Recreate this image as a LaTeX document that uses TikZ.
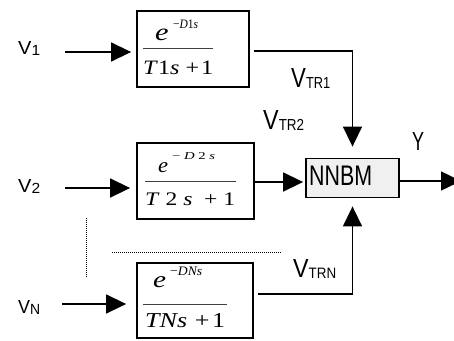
\documentclass[tikz,border=0pt]{standalone}
\usepackage{fontspec}
\usepackage{graphicx}
\setmainfont{Liberation Sans}
\newfontfamily\tms{Liberation Serif}
\usetikzlibrary{arrows.meta,calc}

% text boxed to a given width and height (in pt)
\newcommand{\fitto}[3]{\resizebox{#1pt}{#2pt}{#3}}
\newcommand{\fs}[1]{\fontsize{#1}{#1}\selectfont}

\tikzset{
  blk/.style={draw, line width=1.8pt, inner sep=0pt},
  conn/.style={line width=1.5pt},
  arr/.style={conn, -{Triangle[length=20pt,width=19pt]}},
  lbl/.style={inner sep=0pt, anchor=base west},
  fbar/.style={line width=1pt, draw=black!75},
  dots/.style={line width=1pt, dash pattern=on 1pt off 1pt}
}

\begin{document}
\begin{tikzpicture}[x=1pt,y=-1pt]
\useasboundingbox (0,0) rectangle (454,340);
\clip (0,0) rectangle (454,340);

% delay blocks
\node[blk, minimum width=112pt, minimum height=76pt] (b1) at (193,49) {};
\node[blk, minimum width=117pt, minimum height=76pt] (b2) at (195.5,181) {};
\node[blk, minimum width=116pt, minimum height=75pt] (bN) at (195,300.5) {};

% neural network model block
\node[blk, fill=black!6, minimum width=93pt, minimum height=39pt] (nn) at (352.5,178) {};
\node[lbl] (nnt) at (309,185) {\fitto{63}{19.5}{NNBM}};

% transfer functions
\node[lbl] (n1e) at (155,40.7) {\fitto{13.5}{11.5}{\tms\itshape e}};
\node[lbl] (n1s) at (173,28.3) {\fitto{25}{8.5}{\tms −\textit{D}1\textit{s}}};
\node[lbl] (d1)  at (143,74) {\fitto{70}{13.5}{\tms\textit{T}1\textit{s}\hspace{0.25em}+\hspace{0.08em}1}};
\draw[fbar] (143,48) -- (213,48);

\node[lbl] (n2e) at (158,172) {\fitto{10}{10}{\tms\itshape e}};
\node[lbl] (n2s) at (172,159) {\fitto{43}{7}{\tms −\ \textit{D}\ 2\ \textit{s}}};
\node[lbl] (d2)  at (145,205.5) {\fitto{90}{12.7}{\tms\textit{T}\ 2\ \textit{s}\ \ +\ 1}};
\draw[fbar] (145,181) -- (236,181);

\node[lbl] (nNe) at (153,287) {\fitto{13}{11}{\tms\itshape e}};
\node[lbl] (nNs) at (170,275) {\fitto{32}{8.5}{\tms −\textit{DNs}}};
\node[lbl] (dN)  at (145,327) {\fitto{80}{14}{\tms\textit{TNs}\hspace{0.3em}+\hspace{0.1em}1}};
\draw[fbar] (143,304) -- (227,304);

% inputs
\node[lbl] (v1) at (18,54)  {\fitto{22}{13}{\fs{18}V\raisebox{-1pt}{\fs{14}1}}};
\node[lbl] (v2) at (18,192) {\fitto{22}{13}{\fs{18}V\raisebox{-1pt}{\fs{14}2}}};
\node[lbl] (vN) at (18,313) {\fitto{22}{13}{\fs{18}V\raisebox{-1pt}{\fs{14}N}}};

\coordinate (a1) at (65,52);
\coordinate (a2) at (65,188);
\coordinate (aN) at (62,304);
\draw[arr, shorten >=5pt]  (a1) -- (a1 -| b1.west);
\draw[arr, shorten >=6pt]  (a2) -- (a2 -| b2.west);
\draw[arr, shorten >=10pt] (aN) -- (aN -| bN.west);

% block outputs into the model
\draw[arr, shorten <=4pt, shorten >=11pt] ([yshift=-2pt]b1.east) -| (nn.north);
\draw[arr, shorten >=2pt] ([yshift=-1pt]b2.east) -- ([yshift=-1pt]b2.east -| nn.west);
\draw[arr, shorten <=4pt, shorten >=8pt] ([yshift=6.5pt]bN.east) -| (nn.south);

% model output
\coordinate (yout) at (461,181);
\draw[arr] ([yshift=-3pt]nn.east) -- (yout);

% signal labels
\node[lbl] (vtr1) at (291,87)  {\fitto{39}{19}{\fs{26}V\raisebox{-1.3pt}{\fs{15}TR1}}};
\node[lbl] (vtr2) at (263,129) {\fitto{41}{19}{\fs{26}V\raisebox{-1.3pt}{\fs{15}TR2}}};
\node[lbl] (vtrn) at (293,277) {\fitto{43}{18}{\fs{26}V\raisebox{-1.3pt}{\fs{15}TRN}}};
\node[lbl] (yl) at (412,150) {\fitto{12}{18}{Y}};

% ellipsis for the omitted channels
\coordinate (dv1) at (86,218);
\coordinate (dv2) at (86,277);
\coordinate (dh1) at (112,252);
\coordinate (dh2) at (282,252);
\draw[dots] (dv1) -- (dv2);
\draw[dots] (dh1) -- (dh2);
\end{tikzpicture}
\end{document}
